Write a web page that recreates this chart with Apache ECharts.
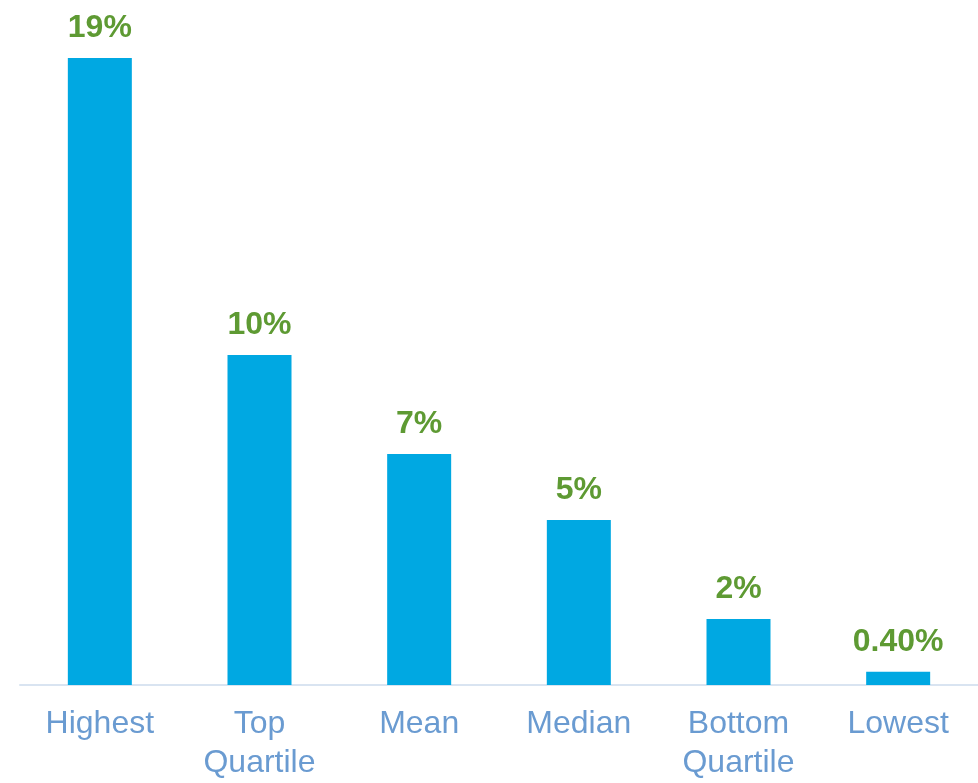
<!DOCTYPE html>
<html>
<head>
<meta charset="utf-8">
<script src="https://cdn.jsdelivr.net/npm/echarts@6/dist/echarts.min.js"></script>
<style>
  html, body { margin: 0; padding: 0; background: #ffffff; overflow: hidden; }
  #chart { width: 978px; height: 783px; }
</style>
</head>
<body>
<div id="chart"></div>
<script>
// Distribution summary, in percent
const categories = ['Highest', 'Top\nQuartile', 'Mean', 'Median', 'Bottom\nQuartile', 'Lowest'];
const values = [19, 10, 7, 5, 2, 0.4];

function pct(v) {
  return (v < 1 ? v.toFixed(2) : String(v)) + '%';
}

const chart = echarts.init(document.getElementById('chart'), null, { renderer: 'canvas' });
chart.setOption({
  animation: false,
  backgroundColor: '#ffffff',
  grid: { left: 20, width: 961, top: 58, height: 632, containLabel: false },
  xAxis: {
    type: 'category',
    data: categories,
    axisLine: { show: true, lineStyle: { color: '#D9E4F1', width: 2 } },
    axisTick: { show: false },
    axisLabel: {
      interval: 0,
      color: '#6A9BD1',
      fontFamily: 'Liberation Sans, Arial, sans-serif',
      fontSize: 32,
      lineHeight: 39,
      margin: 20
    }
  },
  yAxis: {
    type: 'value',
    min: 0,
    max: 19,
    show: false,
    splitLine: { show: false }
  },
  series: [{
    type: 'bar',
    data: values,
    barWidth: 64,
    itemStyle: { color: '#00A8E2' },
    label: {
      show: true,
      position: 'top',
      distance: 14,
      color: '#5E9A33',
      fontFamily: 'Liberation Sans, Arial, sans-serif',
      fontWeight: 'bold',
      fontSize: 32,
      formatter: p => pct(p.value)
    }
  }]
});
</script>
</body>
</html>
